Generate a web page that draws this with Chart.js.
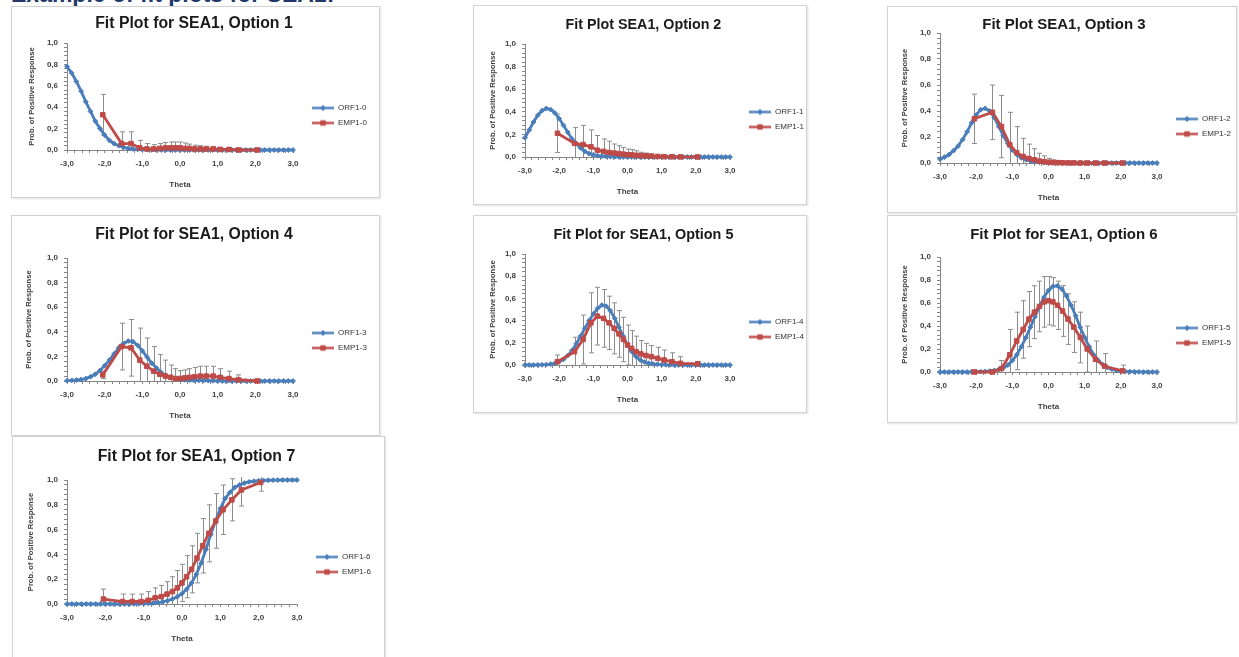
<!DOCTYPE html>
<html>
<head>
<meta charset="utf-8">
<title>Fit plots for SEA1</title>
<script src="https://cdn.jsdelivr.net/npm/chart.js@4.4.1/dist/chart.umd.min.js"></script>
<style>
  html, body { margin: 0; padding: 0; background: #fff; }
  body { width: 1239px; height: 657px; position: relative; overflow: hidden; font-family: "Liberation Sans", Arial, sans-serif; }
  .heading { position: absolute; left: 11px; top: -17px; font-size: 23px; line-height: 23px; font-weight: bold; color: #22386a; white-space: nowrap; }
  .panel { position: absolute; box-sizing: border-box; border: 1px solid #d2d2d2; box-shadow: 1px 1px 2px rgba(0,0,0,0.12); background: #fff; }
  canvas { position: absolute; }
</style>
</head>
<body>
<div class="heading">Example of fit plots for SEA1:</div>
<script>
/* ---- data ---- */
const thetaOrf = [-3.0, -2.875, -2.75, -2.625, -2.5, -2.375, -2.25, -2.125, -2.0, -1.875, -1.75, -1.625, -1.5, -1.375, -1.25, -1.125,
  -1.0, -0.875, -0.75, -0.625, -0.5, -0.375, -0.25, -0.125, 0.0, 0.125, 0.25, 0.375, 0.5, 0.625, 0.75, 0.875,
  1.0, 1.125, 1.25, 1.375, 1.5, 1.625, 1.75, 1.875, 2.0, 2.125, 2.25, 2.375, 2.5, 2.625, 2.75, 2.875, 3.0];
const thetaEmp = [-2.05, -1.55, -1.3, -1.07, -0.88, -0.7, -0.54, -0.39, -0.25, -0.12, 0.0, 0.12, 0.25, 0.39, 0.54, 0.7, 0.88, 1.07, 1.3, 1.55, 2.05];

const xMajor = [-3, -2, -1, 0, 1, 2, 3];
const yMajor = [0, 0.2, 0.4, 0.6, 0.8, 1.0];

const titles = ['Fit Plot for SEA1, Option 1', 'Fit Plot SEA1, Option 2', 'Fit Plot SEA1, Option 3', 'Fit Plot for SEA1, Option 4',
  'Fit Plot for SEA1, Option 5', 'Fit Plot for SEA1, Option 6', 'Fit Plot for SEA1, Option 7'];
const orfLabels = ['ORF1-0', 'ORF1-1', 'ORF1-2', 'ORF1-3', 'ORF1-4', 'ORF1-5', 'ORF1-6'];
const empLabels = ['EMP1-0', 'EMP1-1', 'EMP1-2', 'EMP1-3', 'EMP1-4', 'EMP1-5', 'EMP1-6'];

const orf1 = [0.78, 0.72, 0.64, 0.55, 0.45, 0.36, 0.27, 0.2, 0.14, 0.09, 0.06, 0.04, 0.025, 0.015, 0.01, 0.006,
  0.004, 0.003, 0.002, 0.001, 0, 0, 0, 0, 0, 0, 0, 0, 0, 0, 0, 0,
  0, 0, 0, 0, 0, 0, 0, 0, 0, 0, 0, 0, 0, 0, 0, 0, 0];
const orf2 = [0.17, 0.24, 0.31, 0.37, 0.41, 0.43, 0.42, 0.39, 0.34, 0.28, 0.22, 0.16, 0.12, 0.08, 0.05, 0.03,
  0.02, 0.012, 0.008, 0.005, 0.003, 0.002, 0.001, 0, 0, 0, 0, 0, 0, 0, 0, 0,
  0, 0, 0, 0, 0, 0, 0, 0, 0, 0, 0, 0, 0, 0, 0, 0, 0];
const orf3 = [0.03, 0.045, 0.065, 0.095, 0.13, 0.18, 0.24, 0.31, 0.37, 0.41, 0.42, 0.4, 0.35, 0.28, 0.21, 0.15,
  0.1, 0.065, 0.04, 0.025, 0.015, 0.01, 0.006, 0.004, 0.002, 0.001, 0, 0, 0, 0, 0, 0,
  0, 0, 0, 0, 0, 0, 0, 0, 0, 0, 0, 0, 0, 0, 0, 0, 0];
const orf4 = [0.003, 0.005, 0.008, 0.012, 0.02, 0.035, 0.055, 0.085, 0.125, 0.17, 0.22, 0.27, 0.305, 0.325, 0.32, 0.29,
  0.245, 0.195, 0.145, 0.105, 0.07, 0.045, 0.03, 0.02, 0.013, 0.01, 0.008, 0.006, 0.005, 0.004, 0.003, 0.002,
  0.001, 0, 0, 0, 0, 0, 0, 0, 0, 0, 0, 0, 0, 0, 0, 0, 0];
const orf5 = [0, 0, 0, 0.001, 0.002, 0.004, 0.008, 0.015, 0.03, 0.05, 0.085, 0.13, 0.19, 0.26, 0.33, 0.4,
  0.46, 0.51, 0.54, 0.53, 0.49, 0.42, 0.34, 0.26, 0.18, 0.12, 0.075, 0.045, 0.027, 0.016, 0.01, 0.006,
  0.003, 0.002, 0.001, 0, 0, 0, 0, 0, 0, 0, 0, 0, 0, 0, 0, 0, 0];
const orf6 = [0, 0, 0, 0, 0, 0, 0, 0.001, 0.002, 0.003, 0.005, 0.008, 0.013, 0.022, 0.037, 0.06,
  0.1, 0.15, 0.22, 0.3, 0.39, 0.48, 0.57, 0.65, 0.71, 0.745, 0.75, 0.72, 0.66, 0.58, 0.49, 0.39,
  0.3, 0.22, 0.15, 0.1, 0.065, 0.04, 0.025, 0.015, 0.009, 0.005, 0.003, 0.002, 0.001, 0, 0, 0, 0];
const orf7 = [0, 0, 0, 0, 0, 0, 0, 0, 0, 0, 0, 0, 0, 0, 0.001, 0.002,
  0.003, 0.005, 0.008, 0.012, 0.018, 0.027, 0.04, 0.058, 0.083, 0.12, 0.17, 0.24, 0.33, 0.44, 0.56, 0.67,
  0.77, 0.85, 0.9, 0.94, 0.96, 0.975, 0.985, 0.99, 0.994, 0.996, 0.998, 0.999, 0.999, 1.0, 1.0, 1.0, 1.0];

const emp1 = [0.33, 0.06, 0.06, 0.02, 0.01, 0.01, 0.015, 0.02, 0.02, 0.02, 0.02, 0.015, 0.015, 0.01, 0.01, 0.01, 0.01, 0.005, 0.005, 0, 0];
const err1 = [0.19, 0.11, 0.11, 0.07, 0.05, 0.04, 0.045, 0.05, 0.055, 0.055, 0.055, 0.05, 0.04, 0.035, 0.03, 0.025, 0.02, 0.02, 0.015, 0.005, 0.003];
const emp2 = [0.21, 0.12, 0.11, 0.09, 0.06, 0.05, 0.04, 0.035, 0.03, 0.025, 0.02, 0.02, 0.015, 0.012, 0.01, 0.008, 0.005, 0.003, 0.002, 0.001, 0];
const err2 = [0.17, 0.14, 0.17, 0.15, 0.13, 0.11, 0.1, 0.08, 0.07, 0.06, 0.05, 0.045, 0.04, 0.03, 0.025, 0.02, 0.012, 0.008, 0.005, 0.003, 0.002];
const emp3 = [0.34, 0.39, 0.28, 0.14, 0.08, 0.05, 0.035, 0.025, 0.015, 0.01, 0.006, 0.004, 0.003, 0.002, 0.001, 0.001, 0, 0, 0, 0, 0];
const err3 = [0.19, 0.21, 0.24, 0.25, 0.2, 0.14, 0.11, 0.085, 0.06, 0.045, 0.03, 0.02, 0.015, 0.01, 0.008, 0.005, 0.004, 0.003, 0.002, 0.001, 0.001];
const emp4 = [0.05, 0.28, 0.27, 0.17, 0.12, 0.08, 0.055, 0.04, 0.03, 0.02, 0.02, 0.025, 0.03, 0.035, 0.04, 0.04, 0.04, 0.03, 0.02, 0.01, 0];
const err4 = [0.03, 0.19, 0.23, 0.26, 0.23, 0.2, 0.16, 0.13, 0.1, 0.08, 0.065, 0.065, 0.07, 0.075, 0.08, 0.08, 0.08, 0.07, 0.06, 0.04, 0.005];
const emp5 = [0.03, 0.12, 0.23, 0.38, 0.44, 0.42, 0.38, 0.33, 0.28, 0.23, 0.18, 0.15, 0.12, 0.1, 0.085, 0.075, 0.06, 0.045, 0.03, 0.015, 0.01];
const err5 = [0.06, 0.13, 0.22, 0.27, 0.26, 0.26, 0.24, 0.23, 0.21, 0.2, 0.18, 0.16, 0.14, 0.12, 0.11, 0.1, 0.1, 0.09, 0.08, 0.06, 0.02];
const emp6 = [0, 0, 0.03, 0.15, 0.27, 0.37, 0.46, 0.52, 0.57, 0.61, 0.62, 0.61, 0.58, 0.53, 0.46, 0.39, 0.3, 0.2, 0.11, 0.05, 0.01];
const err6 = [0.01, 0.01, 0.07, 0.22, 0.25, 0.25, 0.24, 0.23, 0.22, 0.22, 0.21, 0.21, 0.21, 0.22, 0.22, 0.22, 0.22, 0.2, 0.16, 0.11, 0.05];
const emp7 = [0.04, 0.02, 0.02, 0.02, 0.03, 0.05, 0.06, 0.08, 0.1, 0.13, 0.17, 0.22, 0.28, 0.37, 0.47, 0.57, 0.67, 0.76, 0.84, 0.92, 0.98];
const err7 = [0.08, 0.06, 0.06, 0.06, 0.07, 0.08, 0.09, 0.1, 0.12, 0.14, 0.15, 0.17, 0.19, 0.2, 0.22, 0.23, 0.22, 0.2, 0.17, 0.13, 0.07];

const orfSeries = [orf1, orf2, orf3, orf4, orf5, orf6, orf7];
const empSeries = [emp1, emp2, emp3, emp4, emp5, emp6, emp7];
const errSeries = [err1, err2, err3, err4, err5, err6, err7];

/* ---- layout of the seven panels (page pixels, plot area relative to panel) ---- */
const panels = [
  { box: [11, 6, 369, 192],    area: [56, 37, 282, 144], titleY: 18, titleSize: 15.8, yTitleX: 21, legendY: 109.5 },
  { box: [473, 5, 334, 200],   area: [52, 39, 257, 152], titleY: 20, titleSize: 14.3, yTitleX: 20, legendY: 114.5 },
  { box: [887, 6, 350, 207],   area: [53, 27, 270, 157], titleY: 19, titleSize: 15,   yTitleX: 18, legendY: 120.5 },
  { box: [11, 215, 369, 221],  area: [56, 43, 282, 166], titleY: 20, titleSize: 15.8, yTitleX: 18, legendY: 125.5 },
  { box: [473, 215, 334, 198], area: [52, 39, 257, 150], titleY: 20, titleSize: 14.4, yTitleX: 20, legendY: 114.5 },
  { box: [887, 215, 350, 208], area: [53, 42, 270, 157], titleY: 20, titleSize: 15,   yTitleX: 18, legendY: 120.5 },
  { box: [12, 436, 373, 230],  area: [55, 44, 285, 168], titleY: 21, titleSize: 15.8, yTitleX: 19, legendY: 128.5 }
];

const BLUE = '#4a7ebb';
const RED = '#be4b48';
const AXIS = '#868686';
const BAR = '#8c8c8c';

Chart.defaults.font.family = "'Liberation Sans', Arial, sans-serif";
Chart.defaults.color = '#404040';

const fmt = v => v.toFixed(1).replace('.', ',');
const isMajor = (list, v) => list.some(m => Math.abs(m - v) < 1e-6);

// legend swatch: short line with the series marker in the middle
function swatch(color, style, radius) {
  const c = document.createElement('canvas');
  c.width = 34; c.height = 9;
  const g = c.getContext('2d');
  g.strokeStyle = color; g.fillStyle = color; g.lineWidth = 2.4;
  g.beginPath(); g.moveTo(12, 4.5); g.lineTo(34, 4.5); g.stroke();
  g.lineWidth = 1;
  Chart.helpers.drawPoint(g, { pointStyle: style, radius: radius, borderWidth: 1 }, 23, 4.5);
  return c;
}
const swatches = [swatch(RED, 'rect', 3.2), swatch(BLUE, 'rectRot', 2.6)];

// vertical error bars around the empirical points
const errorBars = {
  id: 'errorBars',
  beforeDatasetsDraw(chart) {
    const { ctx, chartArea: a, scales: { x, y } } = chart;
    ctx.save();
    ctx.beginPath();
    ctx.rect(a.left, a.top - 3, a.right - a.left, a.bottom - a.top + 3);
    ctx.clip();
    ctx.strokeStyle = BAR;
    ctx.lineWidth = 1;
    chart.data.datasets.forEach(ds => {
      if (!ds.errors) return;
      ds.data.forEach((pt, i) => {
        const e = ds.errors[i];
        const px = Math.round(x.getPixelForValue(pt.x)) + 0.5;
        const hi = y.getPixelForValue(pt.y + e);
        const lo = y.getPixelForValue(pt.y - e);
        ctx.beginPath();
        ctx.moveTo(px, hi); ctx.lineTo(px, lo);
        ctx.moveTo(px - 2.5, hi); ctx.lineTo(px + 2.5, hi);
        ctx.moveTo(px - 2.5, lo); ctx.lineTo(px + 2.5, lo);
        ctx.stroke();
      });
    });
    ctx.restore();
  }
};

function buildConfig(n, t) {
  const p = panels[n];
  const axisGrid = { drawOnChartArea: false, tickLength: 3, color: AXIS };
  return {
    type: 'scatter',
    data: {
      datasets: [
        {
          label: empLabels[n],
          data: thetaEmp.map((x, i) => ({ x, y: empSeries[n][i] })),
          errors: errSeries[n],
          showLine: true,
          borderColor: RED,
          backgroundColor: RED,
          borderWidth: 2.8,
          pointStyle: 'rect',
          pointRadius: 3.2,
          pointBorderWidth: 1,
          clip: false
        },
        {
          label: orfLabels[n],
          data: thetaOrf.map((x, i) => ({ x, y: orfSeries[n][i] })),
          showLine: true,
          borderColor: BLUE,
          backgroundColor: BLUE,
          borderWidth: 2.8,
          pointStyle: 'rectRot',
          pointRadius: 2.4,
          pointBorderWidth: 1,
          clip: false
        }
      ]
    },
    options: {
      responsive: false,
      animation: false,
      events: [],
      layout: { padding: { left: 0, top: 0, right: t.padRight, bottom: t.padBottom } },
      plugins: {
        title: {
          display: true,
          text: titles[n],
          color: '#1a1a1a',
          font: { size: p.titleSize, weight: 'bold' },
          padding: { top: p.titleY - p.titleSize * 0.6, bottom: t.titleBottom }
        },
        legend: {
          position: 'right',
          reverse: true,
          title: { display: true, text: ' ', font: { size: 1 }, padding: { top: t.legendTop, bottom: 0 } },
          labels: {
            usePointStyle: true,
            pointStyleWidth: 34,
            padding: 7,
            color: '#333',
            font: { size: 8 },
            generateLabels: chart => Chart.defaults.plugins.legend.labels.generateLabels(chart)
              .map(item => Object.assign(item, { pointStyle: swatches[item.datasetIndex] }))
          }
        },
        tooltip: { enabled: false }
      },
      scales: {
        x: {
          type: 'linear',
          min: -3,
          max: 3,
          ticks: {
            stepSize: 0.2,
            autoSkip: false,
            maxRotation: 0,
            padding: 6,
            color: '#404040',
            font: { size: 8, weight: 'bold' },
            callback: v => isMajor(xMajor, v) ? fmt(v) : ''
          },
          grid: axisGrid,
          border: { color: AXIS },
          title: { display: true, text: 'Theta', color: '#404040', font: { size: 8, weight: 'bold' }, padding: { top: 5.6, bottom: 0 } }
        },
        y: {
          type: 'linear',
          min: 0,
          max: 1,
          ticks: {
            stepSize: 0.04,
            autoSkip: false,
            padding: 6,
            color: '#404040',
            font: { size: 8, weight: 'bold' },
            callback: v => isMajor(yMajor, v) ? fmt(v) : ''
          },
          grid: axisGrid,
          border: { color: AXIS },
          title: {
            display: true,
            text: 'Prob. of Positive Response',
            color: '#404040',
            font: { size: 7.6, weight: 'bold' },
            padding: { top: p.yTitleX - 4.6, bottom: t.yTitleBottom }
          }
        }
      }
    },
    plugins: [errorBars]
  };
}

panels.forEach((p, n) => {
  const frame = document.createElement('div');
  frame.className = 'panel';
  frame.style.left = p.box[0] + 'px';
  frame.style.top = p.box[1] + 'px';
  frame.style.width = p.box[2] + 'px';
  frame.style.height = p.box[3] + 'px';
  document.body.appendChild(frame);

  const canvas = document.createElement('canvas');
  canvas.width = p.box[2];
  canvas.height = p.box[3];
  canvas.style.left = p.box[0] + 'px';
  canvas.style.top = p.box[1] + 'px';
  document.body.appendChild(canvas);

  // build, measure the plot area, nudge paddings, rebuild
  const t = { titleBottom: 10, yTitleBottom: 4, padRight: 0, padBottom: 0, legendTop: 0 };
  let chart = null;
  for (let k = 0; k < 3; k++) {
    if (chart) chart.destroy();
    chart = new Chart(canvas, buildConfig(n, t));
    if (k === 2) break;
    const a = chart.chartArea;
    t.titleBottom += p.area[1] - a.top;
    t.yTitleBottom += p.area[0] - a.left;
    t.padRight += a.right - p.area[2];
    t.padBottom += a.bottom - p.area[3];
    const hb = chart.legend.legendHitBoxes;
    const last = hb[hb.length - 1];
    const cy = (hb[0].top + last.top + last.height) / 2;
    t.legendTop = Math.max(0, t.legendTop + 2 * (p.legendY - cy));
  }
});
</script>
</body>
</html>
